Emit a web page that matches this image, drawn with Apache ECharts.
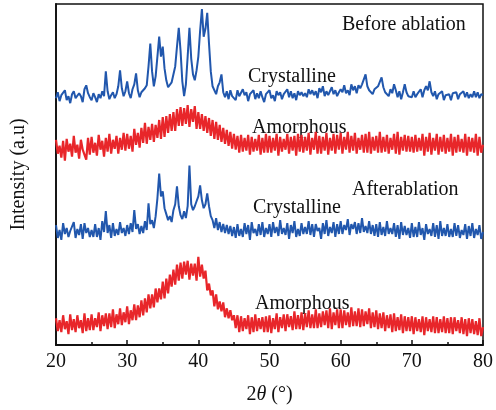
<!DOCTYPE html>
<html>
<head>
<meta charset="utf-8">
<script src="https://cdn.jsdelivr.net/npm/echarts@6/dist/echarts.min.js"></script>
<style>
  html, body { margin: 0; padding: 0; background: #fff; }
  #main { width: 496px; height: 410px; }
</style>
</head>
<body>
<div id="main"></div>
<script>
// 2theta from 20 to 80, step 0.25
var xStart = 20, xStep = 0.25;
var xTicks = [20, 30, 40, 50, 60, 70, 80];

// before ablation, crystalline (blue, top)
var beforeCrystalline = [
  249,255,246,252,250,257,247,251,244,253,256,249,247,254,251,245,258,262,254,250,
  247,254,250,245,253,249,256,251,276,256,248,252,255,249,253,261,277,259,251,256,
  266,254,249,258,263,274,257,250,255,253,259,262,281,304,276,261,271,291,311,291,
  301,279,267,260,259,265,267,281,301,320,297,266,251,263,291,320,289,273,267,277,
  291,317,339,311,319,335,304,276,261,259,253,261,265,273,255,250,256,248,257,251,
  253,247,257,251,249,258,252,255,246,253,251,257,248,254,249,256,250,245,253,252,
  257,249,252,246,256,252,255,248,253,251,258,250,256,249,254,247,256,252,255,251,
  254,250,258,253,257,252,256,249,259,255,261,251,256,252,254,260,253,257,251,255,
  258,255,262,254,257,252,263,257,261,254,262,259,263,264,273,261,257,259,253,258,
  256,261,263,270,260,255,257,251,258,254,263,257,250,256,248,255,263,255,251,253,
  250,256,250,253,251,258,250,257,261,257,266,255,251,256,248,253,251,256,247,252,
  251,253,247,254,252,255,248,253,251,256,250,255,249,253,250,256,250,255,249,253,
  252
];

// before ablation, amorphous (red)
var beforeAmorphous = [
  207,193,201,189,206,186,208,195,203,190,211,194,202,188,207,197,195,187,209,192,
  210,194,204,191,212,197,206,190,209,195,213,193,207,198,211,193,209,197,214,196,
  213,198,211,195,218,202,214,199,219,204,224,203,220,207,223,205,222,209,227,208,
  230,210,231,214,233,216,235,216,238,221,240,221,239,223,242,220,238,225,241,218,
  235,218,233,216,231,214,229,211,227,208,225,207,222,205,219,203,217,201,215,198,
  213,197,211,194,212,195,209,196,212,192,210,195,208,196,212,192,209,194,213,194,
  211,194,209,196,213,191,210,195,208,197,213,193,210,196,211,191,213,195,212,194,
  210,196,214,192,209,197,215,193,211,193,210,196,214,192,209,196,213,193,212,197,
  214,193,210,197,215,194,211,196,214,193,209,197,212,194,213,194,215,193,210,196,
  211,194,215,194,210,195,212,193,209,197,213,193,215,192,210,196,212,195,211,195,
  210,194,212,195,209,196,213,191,210,195,214,192,209,196,213,192,210,195,212,193,
  209,195,213,191,210,194,212,195,208,194,213,191,210,195,209,194,213,191,210,194,
  202
];

// after ablation, crystalline (blue)
var afterCrystalline = [
  121,108,116,106,123,112,118,109,115,113,124,108,117,111,122,107,123,113,118,109,
  116,109,122,109,118,106,125,114,135,113,121,108,123,110,117,111,124,113,118,110,
  121,112,123,114,136,117,122,112,120,113,125,116,143,122,126,118,130,148,173,150,
  155,138,132,126,130,124,136,142,160,140,131,127,135,128,140,181,142,136,140,145,
  150,161,146,138,142,153,140,130,126,118,128,116,124,114,122,113,121,112,120,110,
  119,108,122,110,117,109,123,112,121,106,124,113,117,110,122,111,124,109,118,112,
  122,109,124,113,119,110,126,112,118,111,123,107,121,113,125,109,117,110,123,112,
  119,112,125,111,122,109,122,115,118,107,123,112,126,110,119,113,124,109,122,112,
  125,112,121,116,127,111,122,117,124,112,123,113,128,114,120,113,125,112,121,110,
  122,109,124,111,119,110,125,112,118,112,123,109,121,107,124,111,120,111,118,108,
  123,109,119,109,124,111,118,106,122,112,117,110,123,109,121,107,125,110,118,110,
  122,109,117,109,123,110,121,108,116,111,122,107,120,110,123,108,117,111,121,107,
  114
];

// after ablation, amorphous (red, bottom)
var afterAmorphous = [
  27,14,25,13,30,16,24,11,31,15,26,13,30,17,25,12,32,14,27,15,
  31,15,27,18,33,14,30,19,32,16,32,18,36,17,31,21,37,20,33,23,
  39,21,35,25,41,25,40,28,45,30,47,33,51,37,51,38,57,43,57,46,
  64,47,67,52,71,59,76,61,81,65,83,67,84,71,85,66,82,70,82,65,
  89,69,81,67,75,55,62,50,55,39,51,36,44,34,43,28,37,27,35,25,
  30,17,30,13,29,14,27,16,30,11,28,13,31,14,27,16,28,13,29,13,
  30,12,27,16,32,13,28,17,31,14,31,18,29,15,34,16,30,16,33,15,
  32,18,35,17,31,17,36,17,32,18,34,20,35,17,37,16,33,20,36,17,
  36,17,35,20,33,18,38,19,34,19,37,18,36,19,34,21,37,17,33,18,
  35,16,32,17,33,14,30,17,31,13,32,14,28,15,31,12,29,14,28,14,
  29,11,28,14,26,13,29,10,28,14,26,13,29,12,28,12,26,13,29,12,
  27,12,28,11,28,14,25,12,28,11,26,9,27,12,26,11,24,10,27,9,
  18
];

var labels = ['Before ablation', 'Crystalline', 'Amorphous', 'Afterablation', 'Crystalline', 'Amorphous'];

function pairs(arr) {
  return arr.map(function (v, i) { return [xStart + i * xStep, v]; });
}

var blue = '#2157ad';
var red = '#e8262a';
var serif = '"Liberation Serif", "Times New Roman", serif';

var myChart = echarts.init(document.getElementById('main'));

function lineSeries(name, arr, color, width) {
  return {
    name: name,
    type: 'line',
    data: pairs(arr),
    showSymbol: false,
    symbol: 'none',
    animation: false,
    lineStyle: { color: color, width: width }
  };
}

// text labels inside the plot, x = left edge, y = vertical centre
function label(text, x, y) {
  return {
    type: 'text', x: x, y: y,
    style: { text: text, fontFamily: serif, fontSize: 20, fill: '#111', verticalAlign: 'middle' }
  };
}

var option = {
  animation: false,
  grid: {
    left: 56, right: 10, top: 4, bottom: 62,
    show: true, borderColor: '#111', borderWidth: 1.5
  },
  xAxis: {
    type: 'value',
    min: 20, max: 80, interval: 10,
    axisLine: { lineStyle: { color: '#111', width: 1.8 } },
    axisTick: { inside: true, length: 5, lineStyle: { color: '#111', width: 1.5 } },
    minorTick: { show: true, splitNumber: 2, length: 3, lineStyle: { color: '#111', width: 1.5 } },
    splitLine: { show: false },
    axisLabel: {
      fontFamily: serif, fontSize: 20, color: '#111', margin: 7,
      formatter: function (v) { return xTicks.indexOf(v) >= 0 ? String(v) : ''; }
    },
    name: '2{i|θ} (°)',
    nameLocation: 'middle',
    nameGap: 40,
    nameTextStyle: {
      fontFamily: serif, fontSize: 20, color: '#111',
      rich: { i: { fontFamily: serif, fontSize: 20, fontStyle: 'italic', color: '#111' } }
    }
  },
  yAxis: {
    type: 'value',
    min: 0, max: 344,
    axisLine: { show: true, lineStyle: { color: '#111', width: 1.8 } },
    axisTick: { show: false },
    axisLabel: { show: false },
    splitLine: { show: false },
    name: 'Intensity (a.u)',
    nameLocation: 'middle',
    nameGap: 27,
    nameTextStyle: { fontFamily: serif, fontSize: 20, color: '#111' }
  },
  series: [
    lineSeries('beforeCrystalline', beforeCrystalline, blue, 2),
    lineSeries('beforeAmorphous', beforeAmorphous, red, 2.2),
    lineSeries('afterCrystalline', afterCrystalline, blue, 2),
    lineSeries('afterAmorphous', afterAmorphous, red, 2.2)
  ],
  graphic: [
    label(labels[0], 342, 25),
    label(labels[1], 248, 77),
    label(labels[2], 252, 128),
    label(labels[3], 352, 190),
    label(labels[4], 253, 208),
    label(labels[5], 255, 304)
  ]
};

myChart.setOption(option);
</script>
</body>
</html>
